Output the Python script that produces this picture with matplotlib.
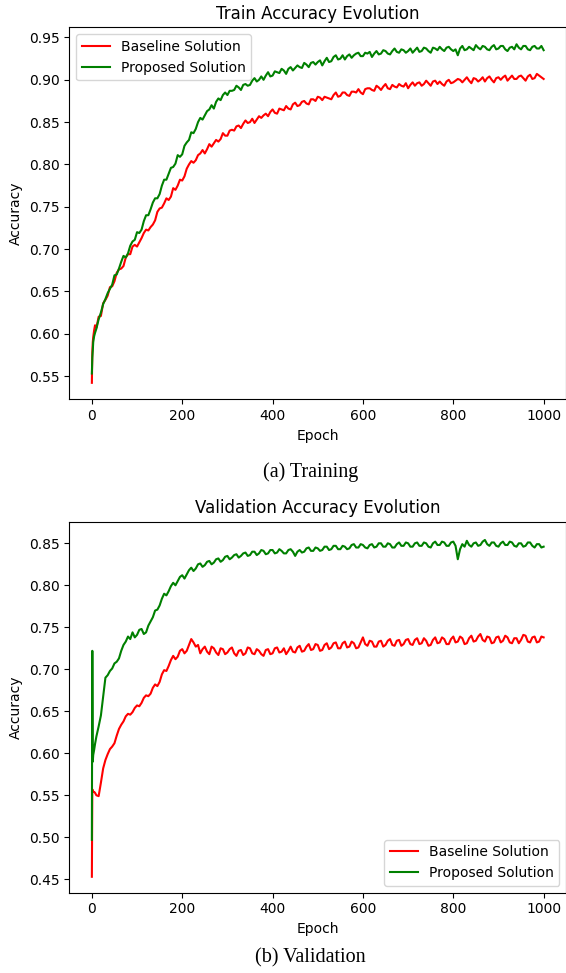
"""Train / validation accuracy curves, baseline vs proposed, with figure captions."""

import matplotlib
matplotlib.use("Agg")
import matplotlib.pyplot as plt

EPOCHS = [0, 1, 2, 3, 5, 7, 10, 15, 20, 25] + list(range(30, 1001, 5))

TRAIN_BASELINE = [
    0.542, 0.578, 0.590, 0.596, 0.604, 0.610, 0.607, 0.620, 0.621, 0.636,
    0.640, 0.645, 0.655, 0.656, 0.662, 0.672, 0.676, 0.677, 0.680, 0.690,
    0.694, 0.694, 0.703, 0.705, 0.703, 0.708, 0.713, 0.719, 0.723, 0.722,
    0.726, 0.729, 0.734, 0.744, 0.748, 0.749, 0.754, 0.760, 0.758, 0.762,
    0.772, 0.770, 0.775, 0.782, 0.781, 0.786, 0.795, 0.800, 0.804, 0.802,
    0.805, 0.811, 0.813, 0.817, 0.813, 0.818, 0.824, 0.821, 0.825, 0.829,
    0.827, 0.830, 0.837, 0.834, 0.834, 0.840, 0.841, 0.840, 0.845, 0.846,
    0.843, 0.848, 0.852, 0.849, 0.850, 0.854, 0.849, 0.853, 0.857, 0.855,
    0.858, 0.860, 0.857, 0.862, 0.865, 0.861, 0.860, 0.866, 0.865, 0.864,
    0.869, 0.866, 0.865, 0.871, 0.873, 0.869, 0.870, 0.874, 0.875, 0.872,
    0.871, 0.877, 0.877, 0.875, 0.880, 0.879, 0.876, 0.880, 0.879, 0.878,
    0.877, 0.882, 0.885, 0.880, 0.881, 0.885, 0.885, 0.882, 0.881, 0.886,
    0.886, 0.885, 0.889, 0.885, 0.883, 0.889, 0.890, 0.890, 0.888, 0.887,
    0.893, 0.891, 0.888, 0.892, 0.895, 0.890, 0.889, 0.894, 0.892, 0.891,
    0.895, 0.893, 0.892, 0.896, 0.890, 0.894, 0.897, 0.893, 0.896, 0.897,
    0.893, 0.895, 0.899, 0.896, 0.893, 0.898, 0.899, 0.895, 0.898, 0.895,
    0.893, 0.898, 0.900, 0.896, 0.897, 0.899, 0.901, 0.900, 0.897, 0.900,
    0.903, 0.899, 0.896, 0.902, 0.901, 0.898, 0.900, 0.903, 0.898, 0.902,
    0.904, 0.900, 0.897, 0.902, 0.903, 0.900, 0.903, 0.905, 0.899, 0.902,
    0.905, 0.901, 0.901, 0.904, 0.905, 0.902, 0.899, 0.904, 0.906, 0.901,
    0.902, 0.907, 0.905, 0.903, 0.901,
]
TRAIN_PROPOSED = [
    0.553, 0.572, 0.580, 0.590, 0.597, 0.601, 0.606, 0.617, 0.625, 0.635,
    0.641, 0.648, 0.653, 0.658, 0.669, 0.670, 0.677, 0.685, 0.692, 0.690,
    0.695, 0.704, 0.709, 0.711, 0.720, 0.719, 0.723, 0.733, 0.740, 0.740,
    0.747, 0.755, 0.760, 0.760, 0.765, 0.775, 0.782, 0.782, 0.789, 0.796,
    0.797, 0.801, 0.811, 0.809, 0.812, 0.822, 0.826, 0.829, 0.838, 0.837,
    0.842, 0.850, 0.855, 0.853, 0.858, 0.863, 0.865, 0.870, 0.866, 0.874,
    0.878, 0.876, 0.882, 0.885, 0.882, 0.887, 0.887, 0.888, 0.893, 0.891,
    0.888, 0.894, 0.895, 0.893, 0.894, 0.899, 0.902, 0.898, 0.900, 0.904,
    0.900, 0.905, 0.909, 0.904, 0.905, 0.910, 0.909, 0.908, 0.913, 0.911,
    0.907, 0.913, 0.915, 0.911, 0.914, 0.917, 0.915, 0.914, 0.920, 0.918,
    0.915, 0.920, 0.921, 0.918, 0.921, 0.923, 0.917, 0.922, 0.926, 0.921,
    0.922, 0.927, 0.929, 0.924, 0.925, 0.929, 0.924, 0.928, 0.930, 0.926,
    0.929, 0.931, 0.932, 0.928, 0.928, 0.932, 0.931, 0.933, 0.927, 0.931,
    0.934, 0.930, 0.931, 0.935, 0.934, 0.931, 0.930, 0.934, 0.937, 0.933,
    0.932, 0.936, 0.935, 0.932, 0.934, 0.937, 0.932, 0.935, 0.938, 0.933,
    0.934, 0.938, 0.937, 0.934, 0.932, 0.938, 0.937, 0.935, 0.939, 0.936,
    0.934, 0.938, 0.939, 0.936, 0.934, 0.936, 0.929, 0.937, 0.940, 0.935,
    0.936, 0.939, 0.937, 0.935, 0.941, 0.938, 0.936, 0.940, 0.939, 0.936,
    0.935, 0.939, 0.941, 0.936, 0.937, 0.940, 0.940, 0.936, 0.934, 0.938,
    0.939, 0.936, 0.942, 0.938, 0.936, 0.940, 0.940, 0.936, 0.935, 0.939,
    0.940, 0.937, 0.937, 0.940, 0.935,
]
VAL_BASELINE = [
    0.453, 0.557, 0.556, 0.554, 0.554, 0.553, 0.550, 0.549, 0.565, 0.582,
    0.592, 0.599, 0.605, 0.608, 0.612, 0.621, 0.629, 0.634, 0.638, 0.644,
    0.647, 0.646, 0.649, 0.654, 0.657, 0.656, 0.660, 0.666, 0.669, 0.668,
    0.671, 0.678, 0.682, 0.680, 0.685, 0.694, 0.699, 0.698, 0.704, 0.711,
    0.716, 0.712, 0.715, 0.722, 0.724, 0.719, 0.722, 0.729, 0.736, 0.732,
    0.727, 0.729, 0.719, 0.724, 0.727, 0.721, 0.718, 0.727, 0.725, 0.720,
    0.717, 0.725, 0.724, 0.718, 0.720, 0.724, 0.726, 0.719, 0.716, 0.722,
    0.723, 0.717, 0.719, 0.726, 0.725, 0.719, 0.718, 0.724, 0.722, 0.718,
    0.716, 0.723, 0.724, 0.718, 0.719, 0.725, 0.726, 0.720, 0.721, 0.725,
    0.718, 0.722, 0.727, 0.721, 0.720, 0.726, 0.728, 0.721, 0.722, 0.727,
    0.730, 0.723, 0.724, 0.730, 0.729, 0.722, 0.723, 0.729, 0.731, 0.724,
    0.726, 0.731, 0.732, 0.725, 0.725, 0.731, 0.733, 0.726, 0.727, 0.733,
    0.731, 0.725, 0.726, 0.732, 0.738, 0.730, 0.728, 0.734, 0.733, 0.727,
    0.727, 0.733, 0.734, 0.727, 0.729, 0.734, 0.736, 0.729, 0.728, 0.734,
    0.735, 0.728, 0.730, 0.735, 0.736, 0.730, 0.729, 0.735, 0.737, 0.730,
    0.731, 0.737, 0.734, 0.728, 0.729, 0.735, 0.738, 0.731, 0.732, 0.738,
    0.736, 0.730, 0.730, 0.736, 0.739, 0.732, 0.733, 0.739, 0.737, 0.730,
    0.731, 0.737, 0.740, 0.733, 0.734, 0.739, 0.742, 0.735, 0.733, 0.739,
    0.738, 0.731, 0.732, 0.738, 0.739, 0.732, 0.734, 0.740, 0.738, 0.732,
    0.731, 0.737, 0.737, 0.731, 0.735, 0.741, 0.740, 0.733, 0.732, 0.738,
    0.739, 0.732, 0.733, 0.739, 0.738,
]
VAL_PROPOSED = [
    0.497, 0.722, 0.590, 0.598, 0.604, 0.611, 0.620, 0.632, 0.645, 0.668,
    0.690, 0.693, 0.698, 0.701, 0.707, 0.709, 0.713, 0.722, 0.729, 0.733,
    0.739, 0.736, 0.744, 0.738, 0.741, 0.747, 0.748, 0.742, 0.744, 0.752,
    0.757, 0.762, 0.770, 0.771, 0.776, 0.784, 0.790, 0.788, 0.793, 0.799,
    0.803, 0.800, 0.805, 0.810, 0.812, 0.808, 0.813, 0.818, 0.821, 0.817,
    0.820, 0.825, 0.826, 0.822, 0.824, 0.828, 0.829, 0.825, 0.827, 0.831,
    0.832, 0.828, 0.830, 0.834, 0.835, 0.831, 0.833, 0.836, 0.837, 0.833,
    0.835, 0.838, 0.839, 0.835, 0.836, 0.840, 0.840, 0.836, 0.838, 0.842,
    0.841, 0.837, 0.838, 0.842, 0.842, 0.838, 0.839, 0.843, 0.841, 0.838,
    0.838, 0.842, 0.843, 0.840, 0.835, 0.840, 0.842, 0.839, 0.840, 0.844,
    0.845, 0.841, 0.841, 0.845, 0.844, 0.841, 0.842, 0.846, 0.846, 0.842,
    0.843, 0.847, 0.847, 0.843, 0.843, 0.847, 0.846, 0.843, 0.844, 0.848,
    0.849, 0.845, 0.845, 0.849, 0.848, 0.845, 0.844, 0.848, 0.849, 0.845,
    0.846, 0.850, 0.850, 0.846, 0.846, 0.850, 0.849, 0.845, 0.845, 0.849,
    0.851, 0.847, 0.847, 0.851, 0.850, 0.846, 0.846, 0.850, 0.851, 0.847,
    0.847, 0.851, 0.850, 0.846, 0.845, 0.850, 0.852, 0.848, 0.848, 0.852,
    0.851, 0.847, 0.847, 0.851, 0.852, 0.847, 0.831, 0.843, 0.849, 0.846,
    0.853, 0.848, 0.846, 0.850, 0.851, 0.847, 0.848, 0.852, 0.854, 0.849,
    0.847, 0.851, 0.851, 0.847, 0.846, 0.850, 0.852, 0.848, 0.848, 0.852,
    0.851, 0.847, 0.846, 0.850, 0.850, 0.846, 0.847, 0.851, 0.851, 0.847,
    0.845, 0.849, 0.849, 0.845, 0.846,
]

LABELS = ["Baseline Solution", "Proposed Solution"]
COLORS = ["red", "green"]


def _plot_panel(ax, baseline, proposed, title, ylim, legend_loc):
    for values, label, color in zip((baseline, proposed), LABELS, COLORS):
        ax.plot(EPOCHS, values, color=color, linewidth=1.5, label=label)
    ax.set_title(title)
    ax.set_xlabel("Epoch")
    ax.set_ylabel("Accuracy")
    ax.set_xlim(-50, 1050)
    ax.set_ylim(*ylim)
    ax.legend(loc=legend_loc)


def main():
    fig = plt.figure(figsize=(5.66, 9.73), dpi=100)
    ax1 = fig.add_axes([0.1224, 0.5896, 0.878, 0.3823])
    ax2 = fig.add_axes([0.1224, 0.0825, 0.878, 0.3813])

    _plot_panel(ax1, TRAIN_BASELINE, TRAIN_PROPOSED, "Train Accuracy Evolution",
                (0.5225, 0.962), "upper left")
    _plot_panel(ax2, VAL_BASELINE, VAL_PROPOSED, "Validation Accuracy Evolution",
                (0.434, 0.8757), "lower right")

    # sub-figure captions, as in the paper
    cap = dict(ha="center", va="center", family="Liberation Serif", fontsize=14.5)
    fig.text(0.548, 0.5149, "(a) Training", **cap)
    fig.text(0.548, 0.0154, "(b) Validation", **cap)

    fig.savefig("out.png", dpi=100)
    plt.close(fig)


if __name__ == "__main__":
    main()
